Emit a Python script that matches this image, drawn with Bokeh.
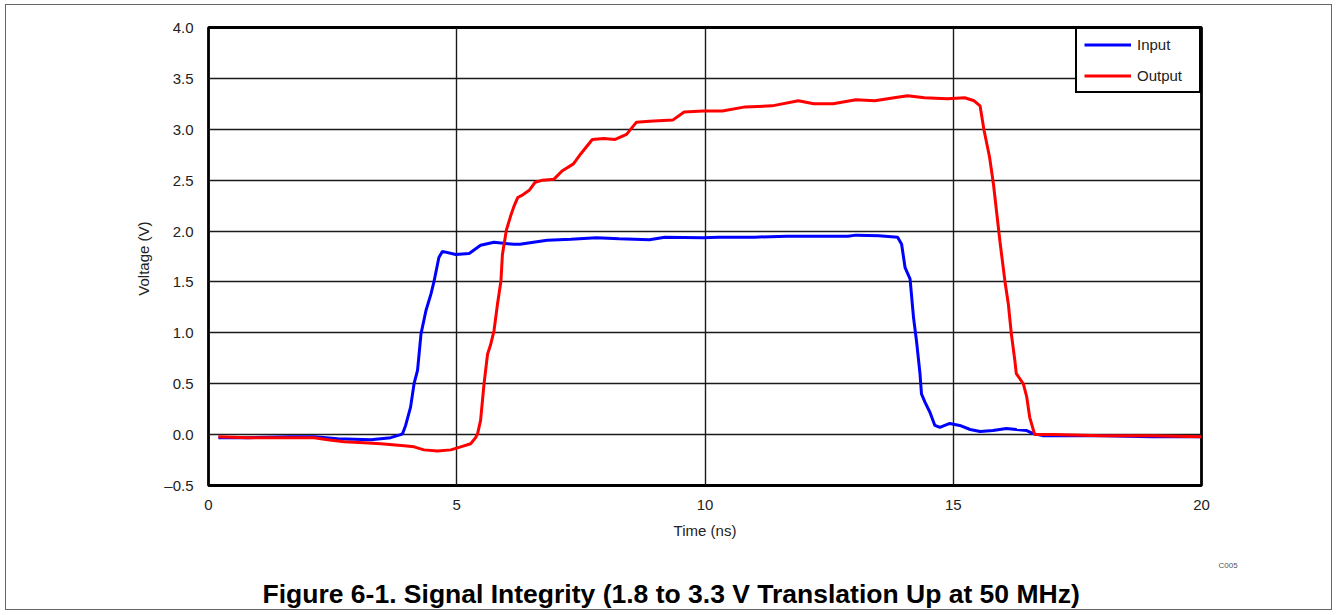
from bokeh.plotting import figure
from bokeh.models import FixedTicker, Legend, LegendItem, Title
from bokeh.embed import file_html
from bokeh.resources import INLINE

# ---- data ----
input_t = [0.2, 0.8, 1.66, 2.13, 2.6, 3.27, 3.67, 3.87, 3.91, 3.97, 4.07, 4.14, 4.21, 4.28, 4.38, 4.48,
           4.54, 4.64, 4.71, 4.98, 5.25, 5.48, 5.75, 6.15, 6.27, 6.82, 7.3, 7.81, 8.27, 8.88, 9.19,
           9.96, 10.27, 11.0, 11.65, 12.4, 12.88, 13.04, 13.5, 13.88, 13.96, 14.03, 14.13, 14.2,
           14.26, 14.33, 14.36, 14.43, 14.53, 14.63, 14.73, 14.93, 15.13, 15.34, 15.54, 15.8,
           16.07, 16.27, 16.48, 16.61, 16.8, 17.15, 18.0, 19.0, 20.0]
input_v = [-0.03, -0.03, -0.02, -0.02, -0.04, -0.05, -0.03, 0.0, 0.01, 0.09, 0.27, 0.5, 0.63, 0.99,
           1.22, 1.38, 1.50, 1.74, 1.80, 1.77, 1.78, 1.86, 1.89, 1.87, 1.87, 1.91, 1.92, 1.935, 1.925,
           1.915, 1.94, 1.935, 1.94, 1.94, 1.95, 1.95, 1.95, 1.96, 1.955, 1.94, 1.87, 1.64, 1.53,
           1.15, 0.92, 0.60, 0.40, 0.32, 0.22, 0.09, 0.07, 0.11, 0.09, 0.05, 0.03, 0.04, 0.06, 0.05,
           0.04, 0.01, -0.01, -0.01, -0.01, -0.02, -0.02]

output_t = [0.2, 0.79, 1.79, 2.13, 2.4, 2.73, 3.13, 3.47, 3.94, 4.14, 4.34, 4.61, 4.88, 5.08, 5.28,
            5.38, 5.42, 5.48, 5.55, 5.62, 5.68, 5.75, 5.82, 5.89, 5.92, 6.0, 6.08, 6.15, 6.23, 6.31,
            6.46, 6.58, 6.73, 6.96, 7.12, 7.35, 7.5, 7.73, 7.96, 8.19, 8.42, 8.62, 8.88, 9.35, 9.58,
            9.96, 10.35, 10.81, 11.35, 11.88, 12.19, 12.58, 13.04, 13.42, 13.81, 14.08, 14.42, 14.88,
            15.23, 15.42, 15.54, 15.62, 15.73, 15.81, 15.94, 16.04, 16.11, 16.17, 16.24, 16.27, 16.41,
            16.48, 16.54, 16.64, 17.0, 18.0, 19.0, 20.0]
output_v = [-0.02, -0.03, -0.03, -0.03, -0.05, -0.07, -0.08, -0.09, -0.11, -0.12, -0.15, -0.16,
            -0.15, -0.12, -0.09, -0.03, 0.01, 0.14, 0.50, 0.79, 0.88, 1.02, 1.28, 1.51, 1.77, 2.01,
            2.14, 2.24, 2.33, 2.35, 2.40, 2.48, 2.50, 2.51, 2.59, 2.66, 2.76, 2.90, 2.91, 2.90, 2.95,
            3.07, 3.08, 3.09, 3.17, 3.18, 3.18, 3.22, 3.23, 3.28, 3.25, 3.25, 3.29, 3.28, 3.31, 3.33,
            3.31, 3.30, 3.31, 3.28, 3.23, 2.99, 2.73, 2.46, 1.90, 1.51, 1.28, 0.99, 0.73, 0.60, 0.50,
            0.37, 0.17, 0.0, 0.0, -0.01, -0.01, -0.02]

x_ticks = [0, 5, 10, 15, 20]
y_ticks = [-0.5, 0.0, 0.5, 1.0, 1.5, 2.0, 2.5, 3.0, 3.5, 4.0]
y_tick_labels = ["\u20130.5", "0.0", "0.5", "1.0", "1.5", "2.0", "2.5", "3.0", "3.5", "4.0"]

FONT = "Liberation Sans"

p = figure(width=1327, height=606, output_backend="svg", toolbar_location=None,
           x_range=(0, 20), y_range=(-0.5, 4.0),
           min_border_left=202, min_border_right=132, min_border_top=22, min_border_bottom=126)
p.styles = {"border": "1px solid #666666", "margin-left": "5px", "margin-top": "4px"}

p.outline_line_color = "black"
p.outline_line_width = 2.8

for ax in (p.xaxis[0], p.yaxis[0]):
    ax.axis_line_color = None
    ax.major_tick_line_color = None
    ax.minor_tick_line_color = None
    ax.major_tick_out = 0
    ax.major_tick_in = 0
    ax.minor_tick_out = 0
    ax.major_label_text_font = FONT
    ax.major_label_text_font_size = "15px"
    ax.major_label_text_color = "#222222"
    ax.axis_label_text_font = FONT
    ax.axis_label_text_font_size = "15px"
    ax.axis_label_text_font_style = "normal"
    ax.axis_label_text_color = "#222222"

p.xaxis.ticker = FixedTicker(ticks=x_ticks)
p.yaxis.ticker = FixedTicker(ticks=y_ticks)
p.yaxis.major_label_overrides = {t: l for t, l in zip(y_ticks, y_tick_labels)}
p.xaxis.major_label_standoff = 14
p.yaxis.major_label_standoff = 15
p.xaxis.axis_label = "Time (ns)"
p.yaxis.axis_label = "Voltage  (V)"
p.xaxis.axis_label_standoff = 9
p.yaxis.axis_label_standoff = 9

p.xgrid.grid_line_color = "#1a1a1a"
p.ygrid.grid_line_color = "#1a1a1a"
p.xgrid.grid_line_width = 1.4
p.ygrid.grid_line_width = 1.4

r_in = p.line(input_t, input_v, line_color="#0000ff", line_width=3)
r_out = p.line(output_t, output_v, line_color="#ff0000", line_width=3)

legend = Legend(items=[LegendItem(label="Input", renderers=[r_in]),
                       LegendItem(label="Output", renderers=[r_out])],
                location="top_right", margin=0, padding=7, spacing=14,
                glyph_width=47, glyph_height=17, label_height=17, label_standoff=6, label_width=55,
                label_text_font=FONT, label_text_font_size="15px", label_text_color="#222222",
                border_line_color="black", border_line_width=2.5, border_line_alpha=1.0,
                background_fill_alpha=1.0)
p.add_layout(legend)

code = Title(text="C005", align="left", offset=1010, standoff=36, vertical_align="middle",
             text_font=FONT, text_font_size="8px", text_font_style="normal", text_color="#555555")
p.add_layout(code, "below")

title = Title(text="Figure 6-1. Signal Integrity (1.8 to 3.3 V Translation Up at 50 MHz)",
              align="left", offset=54, standoff=-22, vertical_align="middle",
              text_font=FONT, text_font_size="26.5px", text_font_style="bold", text_color="black")
p.add_layout(title, "below")

open("out.html", "w").write(file_html(p, INLINE))
